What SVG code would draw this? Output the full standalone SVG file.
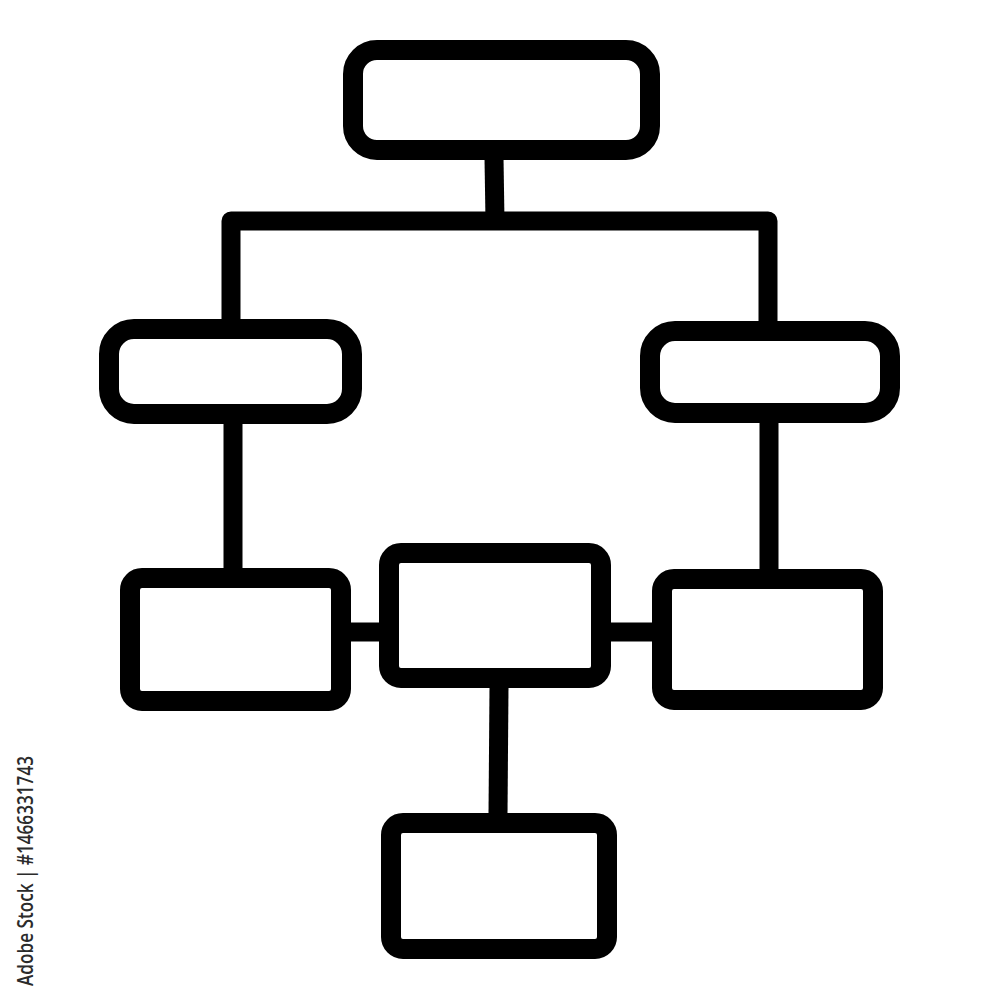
<svg xmlns="http://www.w3.org/2000/svg" width="1000" height="1000" viewBox="0 0 1000 1000">
<style>
.box{fill:none;stroke:#000;stroke-width:20;stroke-linejoin:round}
.wire{fill:none;stroke:#000;stroke-width:19;stroke-linejoin:round;stroke-linecap:butt}
.wm{font-family:"Open Sans","Liberation Sans",sans-serif;font-weight:600;font-size:21px;fill:#2b2b2b}
</style>
<rect width="1000" height="1000" fill="#fff"/>
<g id="connectors">
<path class="wire" d="M494 158 L495 221" stroke-width="18"/>
<path class="wire" d="M231 322 V221 H768 V322"/>
<path class="wire" d="M233 423 V569" stroke-width="20"/>
<path class="wire" d="M769 422 V569" stroke-width="19"/>
<path class="wire" d="M349 632 H380"/>
<path class="wire" d="M609 632 H653"/>
<path class="wire" d="M499 687 L498 815" stroke-width="18"/>
</g>
<g id="node-top"><rect class="box" x="353" y="50" width="297" height="100" rx="24" stroke-width="19"/></g>
<g id="node-mid-left"><rect class="box" x="109" y="329" width="243" height="85" rx="25" stroke-width="21"/></g>
<g id="node-mid-right"><rect class="box" x="650" y="331" width="240" height="82" rx="25"/></g>
<g id="node-bottom-left"><rect class="box" x="130" y="578" width="211" height="123" rx="12" stroke-width="22"/></g>
<g id="node-center"><rect class="box" x="389" y="553" width="212" height="125" rx="12" stroke-width="21"/></g>
<g id="node-bottom-right"><rect class="box" x="662" y="579" width="211" height="121" rx="12"/></g>
<g id="node-bottom"><rect class="box" x="391" y="823" width="216" height="126" rx="12"/></g>
<text class="wm" transform="translate(33 986) rotate(-90)" textLength="230" lengthAdjust="spacingAndGlyphs">Adobe Stock | #1466331743</text>
</svg>
